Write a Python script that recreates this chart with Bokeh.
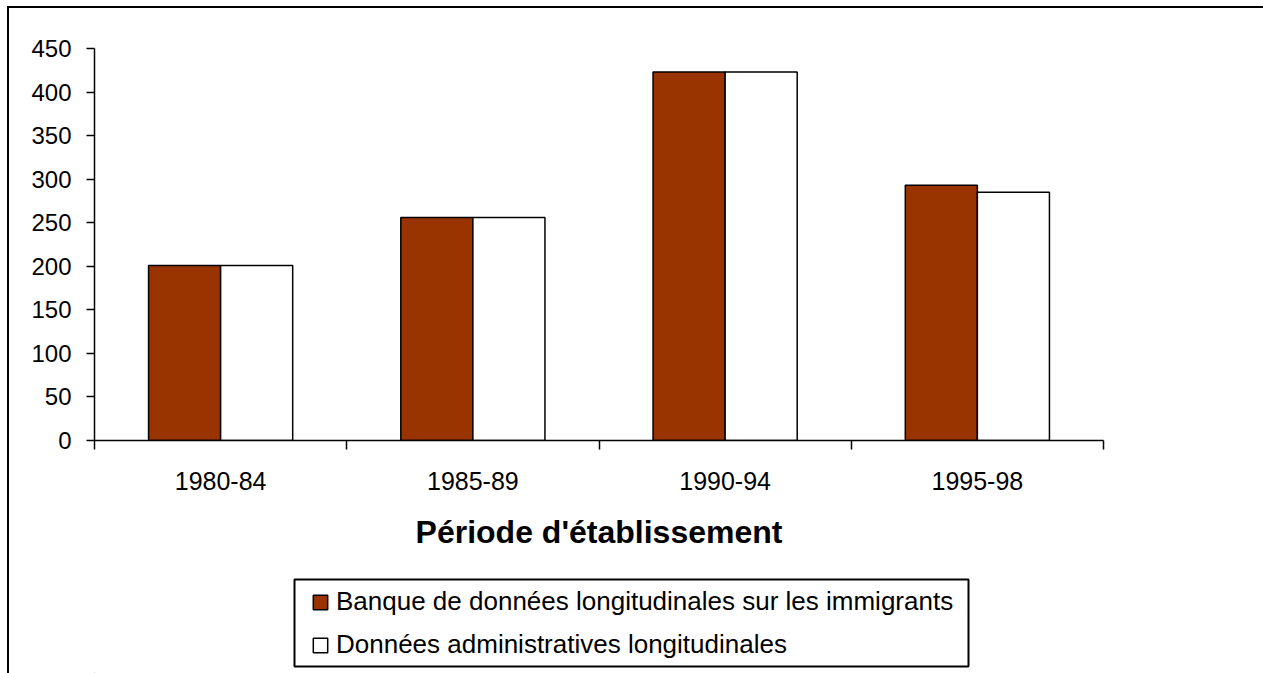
from bokeh.plotting import figure
from bokeh.models import (Range1d, FixedTicker, Legend, LegendItem, ColumnDataSource,
                          Column, BoxAnnotation)
from bokeh.transform import dodge
from bokeh.embed import file_html
from bokeh.resources import INLINE

# ---- data ----
categories = ["1980-84", "1985-89", "1990-94", "1995-98"]
bdim_values = [201, 256, 423, 293]   # Banque de données longitudinales sur les immigrants
dal_values = [201, 256, 423, 285]    # Données administratives longitudinales
series_names = ["Banque de données longitudinales sur les immigrants",
                "Données administratives longitudinales"]
y_ticks = [0, 50, 100, 150, 200, 250, 300, 350, 400, 450]
x_title = "Période d'établissement"

FONT = "Liberation Sans"
BAR_W = 0.2857
RED = "#993300"
W = 1254

src = ColumnDataSource(dict(
    x=[i + 0.5 for i in range(len(categories))],
    bdim=bdim_values,
    dal=dal_values,
))

# ---------------- main chart ----------------
p = figure(width=W, height=560,
           x_range=Range1d(0, len(categories)), y_range=Range1d(0, 450),
           output_backend="svg", toolbar_location=None,
           min_border_left=85, min_border_right=160,
           min_border_top=40, min_border_bottom=128)
p.background_fill_color = "white"
p.border_fill_color = "white"
p.outline_line_color = None
p.xgrid.visible = False
p.ygrid.visible = False

p.vbar(x=dodge("x", -BAR_W / 2), top="bdim", width=BAR_W, source=src,
       fill_color=RED, line_color="black", line_width=1.5)
p.vbar(x=dodge("x", BAR_W / 2), top="dal", width=BAR_W, source=src,
       fill_color="white", line_color="black", line_width=1.5)

# x axis: labels at category centres, ticks at category boundaries
xa = p.xaxis[0]
xa.ticker = FixedTicker(ticks=[i + 0.5 for i in range(len(categories))],
                        minor_ticks=list(range(len(categories) + 1)))
xa.major_label_overrides = {i + 0.5: c for i, c in enumerate(categories)}
xa.major_tick_in = 0
xa.major_tick_out = 0
xa.minor_tick_in = 0
xa.minor_tick_out = 9
xa.minor_tick_line_color = "black"
xa.minor_tick_line_width = 1.5
xa.axis_line_color = "black"
xa.axis_line_width = 1.5
xa.major_label_text_font = FONT
xa.major_label_text_font_size = "25px"
xa.major_label_text_color = "black"
xa.major_label_standoff = 22
xa.axis_label = x_title
xa.axis_label_text_font = FONT
xa.axis_label_text_font_size = "32px"
xa.axis_label_text_font_style = "bold"
xa.axis_label_text_color = "black"
xa.axis_label_standoff = 21

ya = p.yaxis[0]
ya.ticker = FixedTicker(ticks=y_ticks, minor_ticks=[])
ya.major_tick_in = 0
ya.major_tick_out = 8
ya.major_tick_line_color = "black"
ya.major_tick_line_width = 1.5
ya.axis_line_color = "black"
ya.axis_line_width = 1.5
ya.major_label_text_font = FONT
ya.major_label_text_font_size = "24px"
ya.major_label_text_color = "black"
ya.major_label_standoff = 15

# ---------------- legend strip (frame is aligned with the chart's frame) ----------------
LH = 105
FW = 1009  # frame width of the chart in pixels
q = figure(width=W, height=LH, x_range=Range1d(0, FW), y_range=Range1d(0, LH),
           output_backend="svg", toolbar_location=None,
           x_axis_location=None, y_axis_location=None,
           min_border_left=85, min_border_right=160,
           min_border_top=0, min_border_bottom=0)
q.outline_line_color = None
q.xgrid.visible = False
q.ygrid.visible = False
q.background_fill_color = "white"
q.border_fill_color = "white"

# legend key renderers (kept outside the visible range; only their style is used)
key_src = ColumnDataSource(dict(x=[-500], top=[-500], bottom=[-500]))
k1 = q.vbar(x="x", top="top", bottom="bottom", width=0, source=key_src,
            fill_color=RED, line_color="black", line_width=1.5)
k2 = q.vbar(x="x", top="top", bottom="bottom", width=0, source=key_src,
            fill_color="white", line_color="black", line_width=1.5)

q.add_layout(BoxAnnotation(left=200, right=874, bottom=7, top=94,
                           fill_color="white", fill_alpha=1,
                           line_color="black", line_alpha=1, line_width=2))

legend = Legend(items=[LegendItem(label=series_names[0], renderers=[k1]),
                       LegendItem(label=series_names[1], renderers=[k2])],
                location=(217, 13))
legend.border_line_color = None
legend.background_fill_alpha = 0
legend.label_text_font = FONT
legend.label_text_font_size = "26px"
legend.label_text_color = "black"
legend.glyph_width = 18
legend.glyph_height = 18
legend.label_standoff = 7
legend.padding = 0
legend.spacing = 12
legend.margin = 0
q.add_layout(legend, "center")

layout = Column(children=[p, q], spacing=0,
                styles={"border-top": "2px solid black", "border-left": "2px solid black",
                        "margin-left": "7px", "margin-top": "6px"})

open("out.html", "w").write(file_html(layout, INLINE))
